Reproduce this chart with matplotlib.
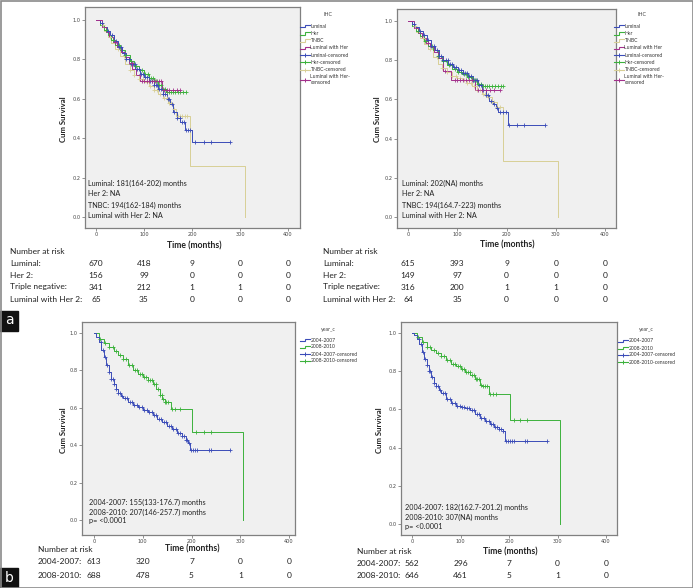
import numpy as np
import matplotlib
matplotlib.use("Agg")
import matplotlib.pyplot as plt
from matplotlib.transforms import blended_transform_factory
from matplotlib.patches import Rectangle

# ---------------- data ----------------
ticks_x = [0, 100, 200, 300, 400]
ticks_y = [0.0, 0.2, 0.4, 0.6, 0.8, 1.0]

ihc_labels = ["luminal", "Her", "TNBC", "Luminal with Her", "luminal-censored",
              "Her-censored", "TNBC-censored", "Luminal with Her-\ncensored"]
year_labels = ["2004-2007", "2008-2010", "2004-2007-censored", "2008-2010-censored"]

# Panel 1 (top-left)
p1_lum_t = [0, 8, 15, 22, 30, 38, 46, 54, 63, 72, 82, 92, 100, 110, 120, 130, 140, 148, 155, 160, 168, 176, 186, 199]
p1_lum_s = [1.0, .985, .965, .945, .925, .895, .865, .835, .80, .775, .75, .725, .71, .69, .67, .65, .625, .60, .575, .535, .505, .48, .44, .38]
p1_lum_end = 279
p1_lum_c = [12, 25, 33, 41, 47, 52, 58, 63, 68, 72, 77, 81, 86, 90, 94, 98, 103, 107, 112, 116, 120, 124, 128,
            132, 136, 140, 144, 149, 153, 158, 163, 168, 174, 180, 184, 188, 192, 196, 206, 225, 239, 279]
p1_her_t = [0, 8, 16, 24, 32, 40, 50, 60, 70, 80, 90, 100, 110, 120, 130, 138, 145]
p1_her_s = [1.0, .975, .95, .925, .90, .875, .85, .82, .79, .765, .745, .725, .705, .69, .67, .65, .635]
p1_her_end = 188
p1_her_c = [20, 35, 48, 60, 72, 84, 95, 102, 108, 114, 118, 122, 127, 131, 135, 139, 143, 148, 152, 156,
            160, 165, 170, 176, 182, 188]
p1_tn_t = [0, 8, 16, 24, 32, 40, 50, 60, 70, 80, 90, 100, 110, 120, 130, 140, 150, 160, 167, 196, 310]
p1_tn_s = [1.0, .975, .945, .915, .885, .855, .815, .775, .745, .72, .70, .685, .665, .645, .625, .605, .58, .55, .515, .26, 0.0]
p1_tn_end = 310
p1_tn_c = [15, 30, 45, 58, 70, 80, 90, 98, 106, 113, 120, 127, 134, 141, 147, 152, 157, 163, 170, 175, 180, 185, 190]
p1_lh_t = [0, 12, 20, 28, 36, 44, 52, 60, 68, 76, 84, 92, 138]
p1_lh_s = [1.0, .965, .94, .915, .89, .865, .84, .81, .78, .75, .72, .69, .645]
p1_lh_end = 175
p1_lh_c = [40, 75, 96, 101, 106, 111, 116, 121, 126, 131, 136, 142, 148, 153, 160, 168, 175]

# Panel 2 (top-right)
p2_lum_t = [0, 8, 15, 22, 30, 38, 46, 54, 62, 72, 82, 92, 102, 112, 122, 132, 142, 150, 158, 165, 172, 178, 183, 203]
p2_lum_s = [1.0, .985, .97, .95, .93, .905, .875, .85, .82, .80, .78, .765, .75, .735, .72, .70, .675, .65, .62, .59, .575, .555, .535, .468]
p2_lum_end = 278
p2_lum_c = [12, 25, 33, 41, 47, 52, 58, 63, 68, 72, 77, 81, 86, 90, 94, 98, 103, 107, 112, 116, 120, 124, 128,
            132, 136, 140, 144, 149, 153, 158, 163, 168, 174, 180, 186, 192, 198, 206, 222, 236, 278]
p2_her_t = [0, 8, 16, 24, 32, 40, 50, 60, 70, 80, 90, 100, 110, 120, 130, 140, 150]
p2_her_s = [1.0, .975, .95, .925, .90, .875, .85, .82, .795, .775, .755, .74, .73, .715, .70, .68, .667]
p2_her_end = 193
p2_her_c = [20, 35, 48, 60, 72, 84, 95, 102, 108, 114, 118, 122, 127, 131, 135, 139, 143, 148, 152, 156,
            160, 165, 170, 176, 182, 188, 193]
p2_tn_t = [0, 8, 16, 24, 32, 40, 50, 60, 70, 80, 90, 100, 110, 120, 130, 140, 150, 160, 170, 180, 193, 305]
p2_tn_s = [1.0, .975, .945, .915, .885, .855, .815, .78, .76, .74, .72, .71, .70, .685, .67, .65, .63, .61, .585, .56, .286, 0.0]
p2_tn_end = 305
p2_tn_c = [15, 30, 45, 58, 70, 80, 90, 98, 106, 113, 120, 127, 134, 141, 147, 152, 157, 163, 170, 175, 180, 186]
p2_lh_t = [0, 12, 20, 28, 36, 44, 52, 60, 71, 88, 136]
p2_lh_s = [1.0, .965, .94, .915, .89, .865, .84, .81, .745, .70, .65]
p2_lh_end = 186
p2_lh_c = [40, 75, 95, 100, 106, 112, 118, 124, 130, 142, 150, 158, 166, 175, 186]

# Panel 3 (bottom-left)
p3_a_t = [0, 5, 10, 15, 20, 25, 30, 35, 40, 45, 50, 55, 60, 70, 80, 90, 100, 110, 120, 130, 140, 150, 160, 170, 180, 188, 193, 196]
p3_a_s = [1.0, .98, .95, .91, .87, .83, .79, .755, .725, .70, .68, .665, .65, .63, .615, .605, .59, .575, .56, .54, .525, .505, .485, .465, .45, .43, .41, .375]
p3_a_end = 279
p3_a_c = [14, 19, 23, 27, 31, 35, 38, 42, 46, 50, 54, 58, 63, 68, 73, 78, 83, 88, 93, 98, 103, 108, 113, 118,
          123, 128, 133, 138, 143, 148, 153, 158, 163, 168, 172, 176, 180, 184, 188, 191, 195, 199, 203, 207,
          211, 236, 241, 279]
p3_b_t = [0, 10, 20, 30, 40, 50, 60, 70, 80, 90, 100, 110, 120, 128, 135, 140, 145, 157, 201, 306]
p3_b_s = [1.0, .97, .945, .925, .905, .88, .86, .83, .80, .78, .765, .75, .725, .70, .67, .645, .63, .595, .473, 0.0]
p3_b_end = 306
p3_b_c = [12, 22, 30, 38, 46, 53, 60, 66, 72, 78, 84, 89, 94, 99, 103, 107, 111, 115, 119, 123, 127, 131,
          135, 139, 142, 145, 148, 152, 160, 166, 176, 209, 225, 239]

# Panel 4 (bottom-right)
p4_a_t = [0, 5, 10, 15, 20, 25, 30, 35, 40, 45, 50, 55, 60, 70, 80, 90, 100, 110, 120, 130, 140, 150, 160, 170, 180, 188, 192]
p4_a_s = [1.0, .99, .97, .94, .90, .865, .83, .80, .77, .74, .72, .70, .685, .655, .633, .62, .615, .607, .595, .578, .555, .54, .525, .51, .50, .485, .436]
p4_a_end = 278
p4_a_c = [14, 19, 23, 27, 31, 35, 38, 42, 46, 50, 54, 58, 63, 68, 73, 78, 83, 88, 93, 98, 103, 108, 113, 118,
          123, 128, 133, 138, 143, 148, 153, 158, 163, 168, 172, 176, 180, 184, 188, 194, 198, 202, 206,
          210, 233, 238, 278]
p4_b_t = [0, 10, 20, 30, 40, 50, 60, 70, 80, 90, 100, 110, 120, 130, 140, 145, 158, 202, 306]
p4_b_s = [1.0, .98, .955, .925, .91, .895, .88, .86, .84, .825, .81, .795, .78, .76, .73, .72, .68, .546, 0.0]
p4_b_end = 306
p4_b_c = [12, 22, 30, 38, 46, 53, 60, 66, 72, 78, 84, 89, 94, 99, 103, 107, 111, 115, 119, 123, 127, 131,
          135, 139, 142, 146, 150, 154, 160, 166, 174, 210, 222, 237]

# number at risk
risk_top_labels = ["Luminal:", "Her 2:", "Triple negative:", "Luminal with Her 2:"]
risk_p1 = [[670, 418, 9, 0, 0], [156, 99, 0, 0, 0], [341, 212, 1, 1, 0], [65, 35, 0, 0, 0]]
risk_p2 = [[615, 393, 9, 0, 0], [149, 97, 0, 0, 0], [316, 200, 1, 1, 0], [64, 35, 0, 0, 0]]
risk_bot_labels = ["2004-2007:", "2008-2010:"]
risk_p3 = [[613, 320, 7, 0, 0], [688, 478, 5, 1, 0]]
risk_p4 = [[562, 296, 7, 0, 0], [646, 461, 5, 1, 0]]

notes_p1 = ["Luminal: 181(164-202) months", "Her 2: NA", "TNBC: 194(162-184) months", "Luminal with Her 2: NA"]
notes_p2 = ["Luminal: 202(NA) months", "Her 2: NA", "TNBC: 194(164.7-223) months", "Luminal with Her 2: NA"]
notes_p3 = ["2004-2007: 155(133-176.7) months", "2008-2010: 207(146-257.7) months", "p= <0.0001"]
notes_p4 = ["2004-2007: 182(162.7-201.2) months", "2008-2010: 307(NA) months", "p= <0.0001"]

# ---------------- style ----------------
BLUE = "#3b4cb8"
GREEN = "#3cb23c"
TAN = "#d8cf96"
MAG = "#a3318c"
FRAME = "#808080"
FONT = "Lato"

W, H = 693, 588
fig = plt.figure(figsize=(W / 100, H / 100), dpi=100)
fig.patch.set_facecolor("white")

ov = fig.add_axes([0, 0, 1, 1], zorder=10)
ov.set_xlim(0, W)
ov.set_ylim(H, 0)
ov.axis("off")


def make_panel(box, x0px, x400px, y1px, y0px):
    l, t, r, b = box
    ax = fig.add_axes([l / W, 1 - b / H, (r - l) / W, (b - t) / H])
    sx = (x400px - x0px) / 400.0
    sy = (y0px - y1px)
    ax.set_xlim((l - x0px) / sx, (r - x0px) / sx)
    ax.set_ylim(-(b - y0px) / sy, 1 + (y1px - t) / sy)
    ax.set_facecolor("#f0f0f0")
    for sp in ax.spines.values():
        sp.set_color(FRAME)
        sp.set_linewidth(0.9)
    ax.set_xticks(ticks_x)
    ax.set_yticks(ticks_y)
    ax.set_xticklabels([str(v) for v in ticks_x])
    ax.set_yticklabels(["%.1f" % v for v in ticks_y])
    ax.tick_params(direction="out", length=2.0, width=0.5, color="#666", labelsize=3.6,
                   labelcolor="#444", pad=1.0)
    return ax


def km(ax, t, s, end, cens, color):
    tt = list(t)
    ss = list(s)
    if end > tt[-1]:
        tt.append(end)
        ss.append(ss[-1])
    ax.step(tt, ss, where="post", color=color, lw=0.7, zorder=3)
    ta = np.asarray(t, float)
    sa = np.asarray(s, float)
    idx = np.searchsorted(ta, np.asarray(cens, float), side="right") - 1
    ax.plot(cens, sa[idx], ls="none", marker="+", ms=3.2, mew=0.6, color=color, zorder=4)


def legend(x, y0, title, labels, colors, dy=7.3):
    ov.text(x + 28, y0 - 11, title, fontsize=3.8, color="#444", family=FONT, ha="center", va="center")
    y = y0
    half = len(labels) // 2
    for i, (lab, c) in enumerate(zip(labels, colors)):
        two = "\n" in lab
        if i < half:
            ov.plot([x, x + 5, x + 5, x + 10], [y + 1.2, y + 1.2, y - 1.2, y - 1.2],
                    color=c, lw=0.8, solid_joinstyle="miter")
        else:
            yy = y + (2.5 if two else 0)
            ov.plot([x, x + 10], [yy, yy], color=c, lw=0.8)
            ov.plot([x + 5], [yy], marker="+", ms=3.2, mew=0.7, color=c)
        ov.text(x + 10.5, y - (2.6 if two else 0), lab, fontsize=3.6, color="#333", family=FONT,
                ha="left", va="top" if two else "center", linespacing=1.25)
        y += dy


def risk_table(ax, xlab, y_title, ys, labels, rows):
    tr = blended_transform_factory(ax.transData, ov.transData)
    ov.text(xlab, y_title, "Number at risk", fontsize=6, family=FONT, color="#222", va="center")
    for yv, lab, row in zip(ys, labels, rows):
        ov.text(xlab, yv, lab, fontsize=6, family=FONT, color="#222", va="center")
        for tx, v in zip(ticks_x, row):
            ov.text(tx, yv, str(v), fontsize=6, family=FONT, color="#222", va="center", ha="center",
                    transform=tr)


def notes(x, ys, lines):
    for yv, txt in zip(ys, lines):
        ov.text(x, yv, txt, fontsize=5.2, family=FONT, color="#222", va="center", ha="left")


# ---------------- panels ----------------
ax1 = make_panel((85, 7, 300, 228), 96, 288, 20, 217)
km(ax1, p1_tn_t, p1_tn_s, p1_tn_end, p1_tn_c, TAN)
km(ax1, p1_her_t, p1_her_s, p1_her_end, p1_her_c, GREEN)
km(ax1, p1_lum_t, p1_lum_s, p1_lum_end, p1_lum_c, BLUE)
km(ax1, p1_lh_t, p1_lh_s, p1_lh_end, p1_lh_c, MAG)

ax2 = make_panel((397, 9, 616, 228), 408, 605, 21, 217)
km(ax2, p2_tn_t, p2_tn_s, p2_tn_end, p2_tn_c, TAN)
km(ax2, p2_her_t, p2_her_s, p2_her_end, p2_her_c, GREEN)
km(ax2, p2_lum_t, p2_lum_s, p2_lum_end, p2_lum_c, BLUE)
km(ax2, p2_lh_t, p2_lh_s, p2_lh_end, p2_lh_c, MAG)

ax3 = make_panel((82, 322, 295, 535), 94, 289, 333, 520)
km(ax3, p3_b_t, p3_b_s, p3_b_end, p3_b_c, GREEN)
km(ax3, p3_a_t, p3_a_s, p3_a_end, p3_a_c, BLUE)

ax4 = make_panel((401, 322, 617, 535), 412, 606, 333, 524)
km(ax4, p4_b_t, p4_b_s, p4_b_end, p4_b_c, GREEN)
km(ax4, p4_a_t, p4_a_s, p4_a_end, p4_a_c, BLUE)

ihc_colors = [BLUE, GREEN, TAN, MAG, BLUE, GREEN, TAN, MAG]
year_colors = [BLUE, GREEN, BLUE, GREEN]
legend(300, 26, "IHC", ihc_labels, ihc_colors)
legend(614, 26, "IHC", ihc_labels, ihc_colors)
legend(300, 340, "year_c", year_labels, year_colors, dy=7.0)
legend(618, 341, "year_c", year_labels, year_colors, dy=7.0)

# axis labels
for (x, y) in [(63, 119), (377, 119), (63, 430), (379, 430)]:
    ov.text(x, y, "Cum Survival", rotation=90, fontsize=5.6, fontweight="bold", family=FONT,
            color="#222", ha="center", va="center")
for (x, y) in [(194, 246), (507, 245), (192, 549), (510, 552)]:
    ov.text(x, y, "Time (months)", fontsize=6.2, fontweight="bold", family=FONT,
            color="#222", ha="center", va="center")

notes(88, [183, 194, 205, 216], notes_p1)
notes(402, [183, 194, 205, 216], notes_p2)
notes(89, [502, 512, 521], notes_p3)
notes(405, [507, 517, 527], notes_p4)

risk_table(ax1, 10, 252, [264, 276, 287, 299], risk_top_labels, risk_p1)
risk_table(ax2, 323, 251, [263, 275, 287, 299], risk_top_labels, risk_p2)
risk_table(ax3, 38, 550, [562, 575], risk_bot_labels, risk_p3)
risk_table(ax4, 357, 551, [563, 575], risk_bot_labels, risk_p4)

# panel letters
for (y, letter) in [(311, "a"), (568, "b")]:
    ov.add_patch(Rectangle((0, y), 18, 20, color="#111"))
    ov.text(9, y + 9.5, letter, color="white", fontsize=10, family="DejaVu Sans",
            ha="center", va="center")

# outer frame
ov.add_patch(Rectangle((0.5, 0.5), W - 1, H - 1, fill=False, ec="#8a8a8a", lw=1.2))

fig.savefig("out.png", dpi=100)
